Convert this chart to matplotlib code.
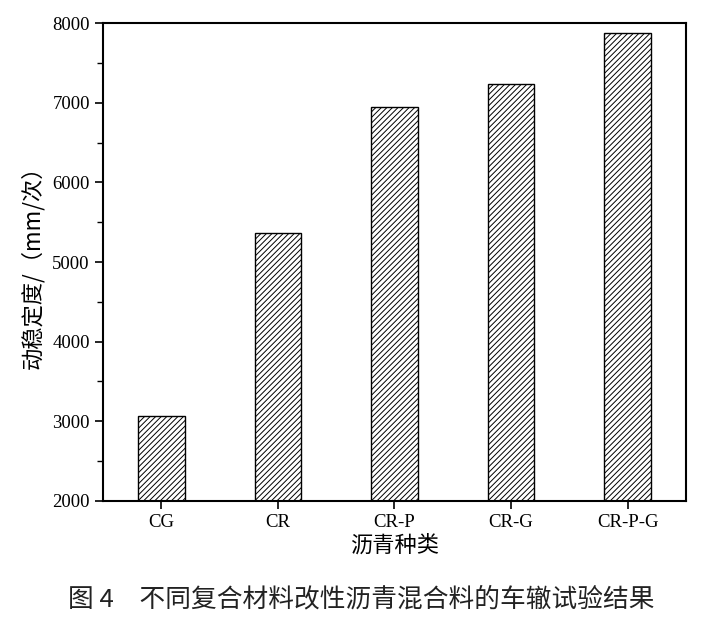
import matplotlib
matplotlib.use("Agg")
import matplotlib.pyplot as plt
from matplotlib.ticker import MultipleLocator

categories = ["CG", "CR", "CR-P", "CR-G", "CR-P-G"]
values = [3070, 5370, 6945, 7230, 7880]
yticks = [2000, 3000, 4000, 5000, 6000, 7000, 8000]

plt.rcParams['hatch.linewidth'] = 0.7
plt.rcParams['hatch.color'] = '#444444'
serif = ['Liberation Serif', 'Noto Sans CJK SC']
cjk = ['Noto Sans CJK SC', 'DejaVu Sans']

fig = plt.figure(figsize=(7.22, 6.36), dpi=100)
ax = fig.add_axes([0.1427, 0.2123, 0.8073, 0.7515])

x = list(range(len(categories)))
ax.bar(x, values, width=0.4, bottom=0, facecolor='white', edgecolor='black',
       linewidth=1.0, hatch='//////', zorder=2)

ax.set_xlim(-0.5, len(categories) - 0.5)
ax.set_ylim(2000, 8000)
ax.set_yticks(yticks)
ax.yaxis.set_minor_locator(MultipleLocator(500))
ax.set_xticks(x)
ax.set_xticklabels(categories, fontfamily=serif, fontsize=13.5)
ax.set_yticklabels([str(v) for v in yticks], fontfamily=serif, fontsize=13.5)

ax.tick_params(axis='both', which='major', direction='out', length=6, width=1.2)
ax.tick_params(axis='y', which='minor', direction='out', length=4, width=1.0)
ax.tick_params(top=False, right=False)
for s in ax.spines.values():
    s.set_linewidth(1.5)

ax.set_ylabel("动稳定度/（mm/次）", fontfamily=cjk, fontsize=16, labelpad=6)
ax.set_xlabel("沥青种类", fontfamily=cjk, fontsize=16, labelpad=2)

fig.text(0.5, 0.057, "图 4　不同复合材料改性沥青混合料的车辙试验结果",
         ha='center', va='center', fontfamily=cjk, fontsize=18.5, color='#222222')

fig.savefig("out.png", dpi=100)
